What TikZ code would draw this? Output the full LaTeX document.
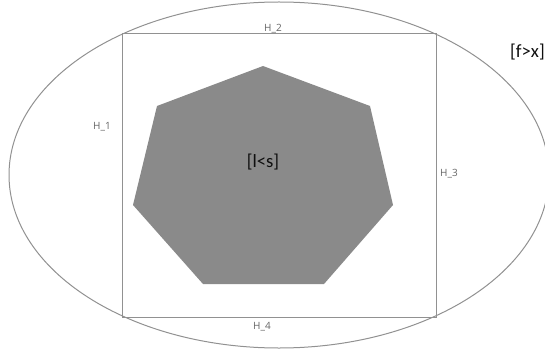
\documentclass[tikz,border=0pt]{standalone}
\usepackage{fontspec}
\setmainfont{Carlito}
\newfontfamily\sidefont{Open Sans}
\usetikzlibrary{shapes, positioning, calc}

\definecolor{linegray}{RGB}{145,145,145}
\definecolor{fillgray}{RGB}{138,138,138}
\definecolor{sidegray}{RGB}{100,100,100}
\definecolor{textdark}{RGB}{15,15,15}

\tikzset{
  side/.style={font=\sidefont\fontsize{7.5}{9}\selectfont, text=sidegray, inner sep=0pt},
  tag/.style={font=\fontsize{14}{16}\selectfont, text=textdark, inner sep=0pt}
}

\begin{document}
\begin{tikzpicture}[x=0.75pt, y=-0.75pt]
\useasboundingbox (0,0) rectangle (545,356);

\node[draw=linegray, line width=0.75pt, ellipse, minimum width=405pt, minimum height=259.5pt, inner sep=0pt] (outer) at (279,175) {};
\node[draw=linegray, line width=0.75pt, rectangle, minimum width=235.5pt, minimum height=212.25pt, inner sep=0pt] (box) at (279,175.5) {};

% grey heptagon
\fill[fillgray] (263,66) -- (370,106) -- (393,205) -- (324,284) -- (203,284) -- (133,205) -- (157,106) -- cycle;
\node[tag] (inner) at (263,162) {[l<s]};

\node[side] (h1) at (102,127) {H\_1};
\node[side] (h2) at (273,28.5) {H\_2};
\node[side] (h3) at (449,174) {H\_3};
\node[side] (h4) at (262,327) {H\_4};

\node[tag, anchor=east] (outside) at (545,52) {[f>x]};
\end{tikzpicture}
\end{document}
